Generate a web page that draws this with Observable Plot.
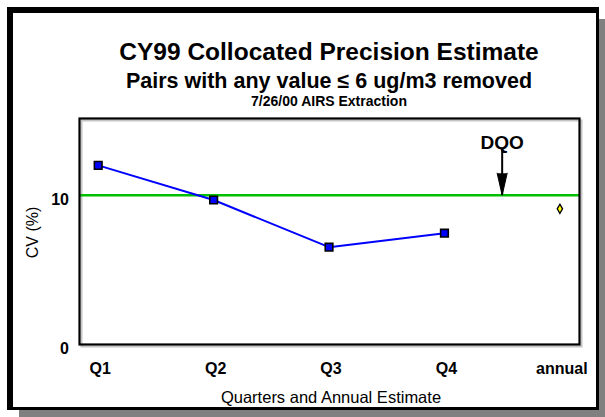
<!DOCTYPE html>
<html>
<head>
<meta charset="utf-8">
<script src="https://cdn.jsdelivr.net/npm/d3@7"></script>
<script src="https://cdn.jsdelivr.net/npm/@observablehq/plot@0.6"></script>
<style>
  html, body { margin: 0; padding: 0; background: #ffffff; }
  #wrap { position: relative; width: 605px; height: 417px; overflow: hidden; background: #ffffff; font-family: "Liberation Sans", Arial, sans-serif; }
  .shadow { position: absolute; background: #808080; }
  #box { position: absolute; left: 7px; top: 7px; width: 592px; height: 403px; box-sizing: border-box;
         border-left: 6px solid #000; border-top: 6px solid #000; border-right: 3px solid #000; border-bottom: 3px solid #000; background: #fff; }
  #chart { position: absolute; left: 0; top: 0; }
  #overlay { position: absolute; left: 0; top: 0; pointer-events: none; }
  #overlay text { font-family: "Liberation Sans", Arial, sans-serif; fill: #000; }
</style>
</head>
<body>
<div id="wrap">
  <div class="shadow" style="left:599px; top:19px; width:6px; height:398px;"></div>
  <div class="shadow" style="left:19px; top:410px; width:586px; height:7px;"></div>
  <div id="box"></div>
  <div id="chart"></div>
  <svg id="overlay" width="605" height="417"></svg>
</div>
<script>
// ---- data ----
const categories = ["Q1", "Q2", "Q3", "Q4", "annual"];
const quarterCV = [12.0, 9.68, 6.52, 7.46];
const annualCV = [9.09];
const dqoValue = 10;
const yTicks = [0, 10];
const titleText = "CY99 Collocated Precision Estimate";
const subtitleText = "Pairs with any value \u2264 6 ug/m3 removed";
const noteText = "7/26/00 AIRS Extraction";
const xLabel = "Quarters and Annual Estimate";
const yLabel = "CV (%)";
const dqoLabel = "DQO";

// ---- tables ----
const quarters = quarterCV.map((v, i) => ({pos: i + 1, cv: v}));
const annual = annualCV.map(v => ({pos: categories.length, cv: v}));
const dqo = [{pos: 4.5, cv: dqoValue, top: 13.13, labelY: 13.53, label: dqoLabel}];

const plot = Plot.plot({
  width: 605,
  height: 417,
  marginLeft: 79,
  marginRight: 26,
  marginTop: 118,
  marginBottom: 73,
  x: {domain: [0.838, 5.17]},
  y: {domain: [0, 15.14]},
  style: {background: "transparent", fontFamily: "'Liberation Sans', Arial, sans-serif", overflow: "visible"},
  marks: [
    Plot.frame({stroke: "#c4c4c4", strokeWidth: 2, dx: 2, dy: 2}),
    Plot.ruleY([dqoValue], {stroke: "#00c000", strokeWidth: 2.5}),
    Plot.line(quarters, {x: "pos", y: "cv", stroke: "#0000ff", strokeWidth: 2}),
    Plot.dot(quarters, {x: "pos", y: "cv", symbol: "square", r: 4.3, fill: "#0000ff", stroke: "#000", strokeWidth: 1.6}),
    Plot.dot(annual, {x: "pos", y: "cv", symbol: "diamond", r: 2.8, fill: "#ffff00", stroke: "#000", strokeWidth: 1.3}),
    Plot.ruleX(dqo, {x: "pos", y1: "cv", y2: "top", stroke: "#000", strokeWidth: 2}),
    Plot.vector(dqo, {x: "pos", y: "cv", length: 22, r: 5, shape: "spike", rotate: 180, anchor: "end", fill: "#000", stroke: "#000", strokeWidth: 1}),
    Plot.text(dqo, {x: "pos", y: "labelY", text: "label", fontSize: 19, fontWeight: "bold", fill: "#000"}),
    Plot.axisX({ticks: categories.map((c, i) => i + 1), tickFormat: d => categories[d - 1], tickSize: 0, tickPadding: 18, fontSize: 16, fontWeight: "bold", dx: 2, label: null}),
    Plot.axisY({ticks: yTicks, tickSize: 0, tickPadding: 10.5, fontSize: 16, fontWeight: "bold", dy: 4.5, label: null}),
    Plot.frame({stroke: "#000", strokeWidth: 2.2})
  ]
});
document.getElementById("chart").appendChild(plot);

// ---- titles and axis labels ----
const ov = d3.select("#overlay");
ov.append("text").attr("x", 329).attr("y", 60).attr("text-anchor", "middle")
  .attr("font-size", 24.5).attr("font-weight", "bold").text(titleText);
ov.append("text").attr("x", 329).attr("y", 88).attr("text-anchor", "middle")
  .attr("font-size", 21.5).attr("font-weight", "bold").text(subtitleText);
ov.append("text").attr("x", 329).attr("y", 106).attr("text-anchor", "middle")
  .attr("font-size", 14).attr("font-weight", "bold").text(noteText);
ov.append("text").attr("x", 331).attr("y", 403.3).attr("text-anchor", "middle")
  .attr("font-size", 16.5).text(xLabel);
ov.append("text").attr("transform", "translate(38.4,232.5) rotate(-90)").attr("text-anchor", "middle")
  .attr("font-size", 16).text(yLabel);
</script>
</body>
</html>
